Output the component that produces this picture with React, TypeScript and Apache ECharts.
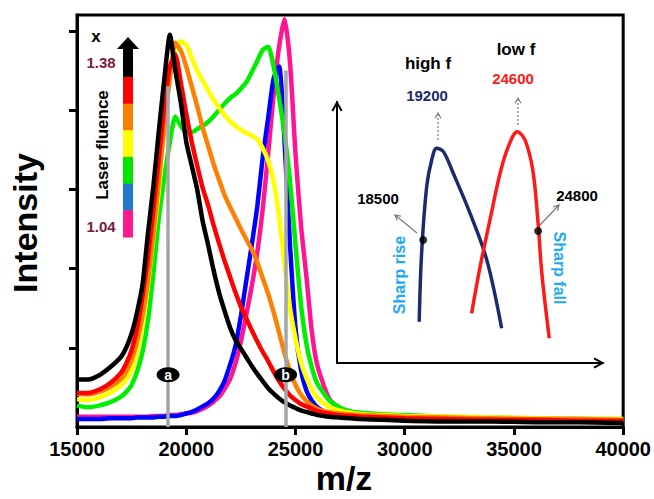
import React, { useEffect, useRef } from "react";
import * as echarts from "echarts";

// ---------- data ----------
const mzGrid = [
  15000, 15500, 16000, 16500,
  17000, 17250, 17500, 17750, 18000, 18250, 18500, 18750, 19000, 19250,
  19500, 19750, 20000, 20250, 20500, 20750, 21000, 21250, 21500, 21750,
  22000, 22250, 22500, 22750, 23000, 23250, 23500, 23750, 24000, 24250,
  24500, 24750, 25000, 25250, 25500, 25750, 26000,
  26500, 27000, 27500, 28000, 29000, 30000, 32000, 34000, 36000, 38000, 40000,
];

const blackVals = [
  0.6, 0.6, 0.65, 0.75,
  0.88, 1.0, 1.18, 1.45, 1.8, 2.45, 3.05, 3.75, 4.4, 4.95,
  4.5, 4.1, 3.6, 3.3, 3.0, 2.6, 2.3, 1.98, 1.7, 1.47,
  1.26, 1.1, 0.99, 0.88, 0.77, 0.67, 0.58, 0.49, 0.42, 0.36,
  0.31, 0.27, 0.24, 0.21, 0.19, 0.17, 0.15,
  0.13, 0.12, 0.11, 0.1, 0.09, 0.08, 0.07, 0.07, 0.06, 0.06, 0.05,
];
const redVals = [
  0.43, 0.43, 0.47, 0.55,
  0.68, 0.8, 0.97, 1.25, 1.65, 2.15, 2.75, 3.4, 4.05, 4.55,
  4.7, 4.35, 3.95, 3.6, 3.3, 3.02, 2.8, 2.55, 2.32, 2.1,
  1.9, 1.7, 1.52, 1.37, 1.22, 1.08, 0.95, 0.83, 0.7, 0.58,
  0.48, 0.4, 0.34, 0.29, 0.26, 0.23, 0.2,
  0.17, 0.15, 0.14, 0.13, 0.12, 0.11, 0.1, 0.09, 0.09, 0.08, 0.08,
];
const orangeVals = [
  0.42, 0.41, 0.44, 0.5,
  0.6, 0.7, 0.85, 1.08, 1.4, 1.85, 2.45, 3.1, 3.8, 4.4,
  4.85, 4.75, 4.55, 4.3, 4.05, 3.78, 3.55, 3.32, 3.12, 2.93,
  2.78, 2.64, 2.5, 2.37, 2.24, 2.08, 1.88, 1.68, 1.45, 1.19,
  0.93, 0.7, 0.53, 0.41, 0.33, 0.27, 0.23,
  0.19, 0.17, 0.16, 0.15, 0.14, 0.13, 0.12, 0.11, 0.1, 0.1, 0.09,
];
const yellowVals = [
  0.35, 0.34, 0.37, 0.43,
  0.52, 0.6, 0.72, 0.95, 1.3, 1.8, 2.4, 3.0, 3.85, 4.4,
  4.75, 4.87, 4.82, 4.66, 4.5, 4.37, 4.25, 4.13, 4.03, 3.94,
  3.86, 3.8, 3.75, 3.71, 3.68, 3.63, 3.52, 3.36, 3.1, 2.65,
  2.05, 1.5, 1.12, 0.82, 0.62, 0.47, 0.37,
  0.26, 0.21, 0.18, 0.16, 0.15, 0.14, 0.13, 0.12, 0.11, 0.1, 0.1,
];
const greenVals = [
  0.27, 0.25, 0.27, 0.31,
  0.38, 0.44, 0.53, 0.7, 0.95, 1.35, 1.95, 2.65, 3.15, 3.6,
  3.92, 3.8, 3.72, 3.72, 3.76, 3.8, 3.85, 3.92, 4.0, 4.08,
  4.15, 4.2, 4.27, 4.35, 4.48, 4.62, 4.76, 4.8, 4.55, 4.15,
  3.7, 3.1, 2.3, 1.55, 1.05, 0.75, 0.55,
  0.35, 0.25, 0.2, 0.18, 0.16, 0.15, 0.13, 0.12, 0.11, 0.1, 0.1,
];
const blueVals = [
  0.1, 0.1, 0.1, 0.11,
  0.11, 0.11, 0.11, 0.12, 0.12, 0.12, 0.12, 0.13, 0.13, 0.14,
  0.14, 0.15, 0.17, 0.19, 0.22, 0.26, 0.3, 0.36, 0.45, 0.58,
  0.78, 1.02, 1.4, 1.85, 2.3, 2.78, 3.4, 3.9, 4.4, 4.55,
  3.6, 2.3, 1.25, 0.72, 0.46, 0.33, 0.25,
  0.17, 0.13, 0.12, 0.11, 0.1, 0.1, 0.09, 0.09, 0.09, 0.08, 0.08,
];
const magentaVals = [
  0.13, 0.13, 0.13, 0.13,
  0.13, 0.13, 0.13, 0.13, 0.13, 0.13, 0.14, 0.14, 0.14, 0.15,
  0.15, 0.16, 0.17, 0.18, 0.2, 0.23, 0.27, 0.32, 0.38, 0.48,
  0.6, 0.8, 1.08, 1.42, 1.78, 2.2, 2.75, 3.45, 4.2, 4.8,
  5.15, 4.6, 3.45, 2.55, 1.9, 1.2, 0.78,
  0.38, 0.22, 0.17, 0.15, 0.13, 0.12, 0.11, 0.1, 0.1, 0.1, 0.09,
];

// drawn bottom to top
const spectrumNames = ["F 1.04", "F 2", "F 3", "F 4", "F 5", "F 6", "F 1.38"];
const spectrumColors = ["#ff1493", "#0000ff", "#00ee00", "#ffff00", "#ff8000", "#ff0000", "#000000"];
const spectrumValues = [magentaVals, blueVals, greenVals, yellowVals, orangeVals, redVals, blackVals];

const xTicks = [15000, 20000, 25000, 30000, 35000, 40000];
const yTickValues = [1, 2, 3, 4, 5];

const markerLabels = ["a", "b"];
const markerMz = [19170, 24550];
const markerTop = [4.3, 4.5];
const markerY = 0.66;

const legendColors = ["#000000", "#ff0000", "#ff8000", "#ffff00", "#00e600", "#1f78c8", "#ff1a8c"];
const legendHigh = "1.38";
const legendLow = "1.04";

// inset schematic (arbitrary units 0..100)
const highFCurve = [
  [30.9, 15.8], [31.8, 42.0], [33.7, 67.5], [35.6, 77.8], [37.5, 82.3],
  [40.0, 81.0], [43.7, 72.7], [50.0, 57.4], [56.3, 39.5], [61.9, 13.3],
];
const lowFCurve = [
  [50.6, 19.0], [53.8, 36.9], [57.5, 54.8], [61.3, 72.7], [64.4, 82.9], [67.8, 88.6],
  [70.7, 85.4], [73.6, 73.9], [75.5, 54.8], [77.0, 34.4], [79.8, 9.5],
];
const insetDots = [[32.4, 47.1], [75.6, 50.6]];

const FONT = '"Liberation Sans", Arial, Helvetica, sans-serif';
const CHEVRON = "path://M5,0 L10,9 L8.4,10 L5,3.6 L1.6,10 L0,9 Z";

function arrowEls(x1: number, y1: number, x2: number, y2: number, dashed: boolean) {
  const a = Math.atan2(y2 - y1, x2 - x1);
  const hl = 6;
  const sp = 0.5;
  return [
    {
      type: "line",
      shape: { x1, y1, x2, y2 },
      style: { stroke: "#7a7a7a", lineWidth: 1.2, lineDash: dashed ? [2, 2] : null },
      silent: true,
    },
    {
      type: "polyline",
      shape: {
        points: [
          [x2 - hl * Math.cos(a - sp), y2 - hl * Math.sin(a - sp)],
          [x2, y2],
          [x2 - hl * Math.cos(a + sp), y2 - hl * Math.sin(a + sp)],
        ],
      },
      style: { stroke: "#7a7a7a", lineWidth: 1.2, fill: null },
      silent: true,
    },
  ];
}

function txt(text: string, x: number, y: number, size: number, color: string, rotation = 0) {
  return {
    type: "text",
    x,
    y,
    rotation,
    silent: true,
    style: {
      text,
      fill: color,
      font: `bold ${size}px ${FONT}`,
      align: "center",
      verticalAlign: "middle",
    },
  };
}

export default function App() {
  const ref = useRef<HTMLDivElement>(null);

  useEffect(() => {
    if (!ref.current) return;
    const chart = echarts.init(ref.current, undefined, { renderer: "svg" });

    const mainSeries = spectrumValues.map((vals, i) => ({
      name: spectrumNames[i],
      type: "line",
      xAxisIndex: 0,
      yAxisIndex: 0,
      data: mzGrid.map((m, j) => [m, vals[j]]),
      showSymbol: false,
      smooth: 0.2,
      lineStyle: { color: spectrumColors[i], width: 4.5 },
      z: 2 + i,
      silent: true,
    }));

    // colour bar
    const barX = 123;
    const barW = 10;
    const blackTop = 48;
    const segTop = 77;
    const segBottom = 237;
    const segH = (segBottom - segTop) / (legendColors.length - 1);
    const barRects = legendColors.map((c, i) => ({
      type: "rect",
      silent: true,
      shape:
        i === 0
          ? { x: barX, y: blackTop, width: barW, height: segTop - blackTop + 0.5 }
          : { x: barX, y: segTop + (i - 1) * segH, width: barW, height: segH + 0.5 },
      style: { fill: c },
    }));

    const graphics: any[] = [
      // axis titles
      txt("Intensity", 25, 223, 34, "#000", Math.PI / 2),
      txt("m/z", 344, 478, 34, "#000"),
      // legend
      ...barRects,
      {
        type: "polygon",
        silent: true,
        shape: { points: [[117, 49], [128, 37], [139, 49]] },
        style: { fill: "#000" },
      },
      txt("x", 96, 36, 17, "#000"),
      txt(legendHigh, 101, 62.5, 15, "#7a1c3c"),
      txt(legendLow, 101, 226.5, 15, "#7a1c3c"),
      txt("Laser fluence", 102, 145, 17, "#000", Math.PI / 2),
      // inset annotations
      txt("high f", 428, 63, 17, "#000"),
      txt("low f", 516, 49, 17, "#000"),
      txt("19200", 427, 95, 15, "#1c2a6e"),
      txt("24600", 513, 78, 15, "#ff1a1a"),
      txt("18500", 378, 198.5, 15, "#000"),
      txt("24800", 577, 195, 15, "#000"),
      txt("Sharp rise", 399, 275, 16, "#1eaaf0", Math.PI / 2),
      txt("Sharp fall", 559, 268, 16, "#1eaaf0", -Math.PI / 2),
      ...arrowEls(438, 140, 438, 113, true),
      ...arrowEls(518, 125, 518, 98, true),
      ...arrowEls(417, 233, 395, 215, false),
      ...arrowEls(540, 225, 559, 205, false),
    ];

    const insetAxisLine = {
      show: true,
      onZero: false,
      symbol: ["none", CHEVRON],
      symbolSize: [11, 11],
      symbolOffset: [0, -4],
      lineStyle: { color: "#000", width: 2 },
    };

    const option: any = {
      animation: false,
      backgroundColor: "#ffffff",
      grid: [
        {
          left: 77,
          right: 29,
          top: 15,
          bottom: 72,
          show: true,
          borderColor: "#000",
          borderWidth: 3,
          backgroundColor: "transparent",
        },
        { left: 337, right: 51, top: 102, bottom: 136 },
      ],
      xAxis: [
        {
          gridIndex: 0,
          type: "value",
          min: xTicks[0],
          max: xTicks[xTicks.length - 1],
          interval: 5000,
          axisLine: { show: true, onZero: false, lineStyle: { color: "#000", width: 3 } },
          axisTick: { show: true, length: 8, lineStyle: { color: "#000", width: 3 } },
          axisLabel: {
            color: "#000",
            fontSize: 20,
            fontWeight: "bold",
            fontFamily: FONT,
            margin: 12,
            formatter: (v: number) => String(v),
          },
          splitLine: { show: false },
        },
        {
          gridIndex: 1,
          type: "value",
          min: 0,
          max: 100,
          axisLine: insetAxisLine,
          axisTick: { show: false },
          axisLabel: { show: false },
          splitLine: { show: false },
        },
      ],
      yAxis: [
        {
          gridIndex: 0,
          type: "value",
          min: 0,
          max: 5.2,
          interval: 1,
          axisLine: { show: true, onZero: false, lineStyle: { color: "#000", width: 3 } },
          axisTick: {
            show: true,
            length: 8,
            customValues: yTickValues,
            lineStyle: { color: "#000", width: 3 },
          },
          axisLabel: { show: false },
          splitLine: { show: false },
        },
        {
          gridIndex: 1,
          type: "value",
          min: 0,
          max: 100,
          axisLine: insetAxisLine,
          axisTick: { show: false },
          axisLabel: { show: false },
          splitLine: { show: false },
        },
      ],
      series: [
        ...mainSeries,
        {
          name: "guides",
          type: "line",
          xAxisIndex: 0,
          yAxisIndex: 0,
          data: [],
          z: 20,
          silent: true,
          markLine: {
            silent: true,
            z: 25,
            symbol: "none",
            animation: false,
            label: { show: false },
            lineStyle: { color: "#a6a6a6", width: 3.5, type: "solid" },
            data: markerMz.map((m, i) => [{ coord: [m, 0] }, { coord: [m, markerTop[i]] }]),
          },
        },
        {
          name: "labels",
          type: "line",
          xAxisIndex: 0,
          yAxisIndex: 0,
          data: [],
          z: 21,
          silent: true,
          markPoint: {
            silent: true,
            z: 30,
            animation: false,
            symbol: "circle",
            symbolSize: [23, 15],
            itemStyle: { color: "#000" },
            label: {
              show: true,
              position: "inside",
              formatter: "{b}",
              color: "#fff",
              fontSize: 14,
              fontWeight: "bold",
              fontFamily: FONT,
            },
            data: markerMz.map((m, i) => ({ name: markerLabels[i], coord: [m, markerY] })),
          },
        },
        {
          name: "high f",
          type: "line",
          xAxisIndex: 1,
          yAxisIndex: 1,
          data: highFCurve,
          smooth: 0.35,
          showSymbol: false,
          silent: true,
          lineStyle: { color: "#1c2a6e", width: 3.5 },
        },
        {
          name: "low f",
          type: "line",
          xAxisIndex: 1,
          yAxisIndex: 1,
          data: lowFCurve,
          smooth: 0.35,
          showSymbol: false,
          silent: true,
          lineStyle: { color: "#ff1a1a", width: 3.5 },
        },
        {
          name: "points",
          type: "scatter",
          xAxisIndex: 1,
          yAxisIndex: 1,
          data: insetDots,
          symbolSize: 8,
          silent: true,
          itemStyle: { color: "#000" },
          z: 5,
        },
      ],
      graphic: { elements: graphics },
    };

    chart.setOption(option);
    return () => chart.dispose();
  }, []);

  return (
    <div
      ref={ref}
      style={{ position: "fixed", left: 0, top: 0, width: 654, height: 499, background: "#fff" }}
    />
  );
}
